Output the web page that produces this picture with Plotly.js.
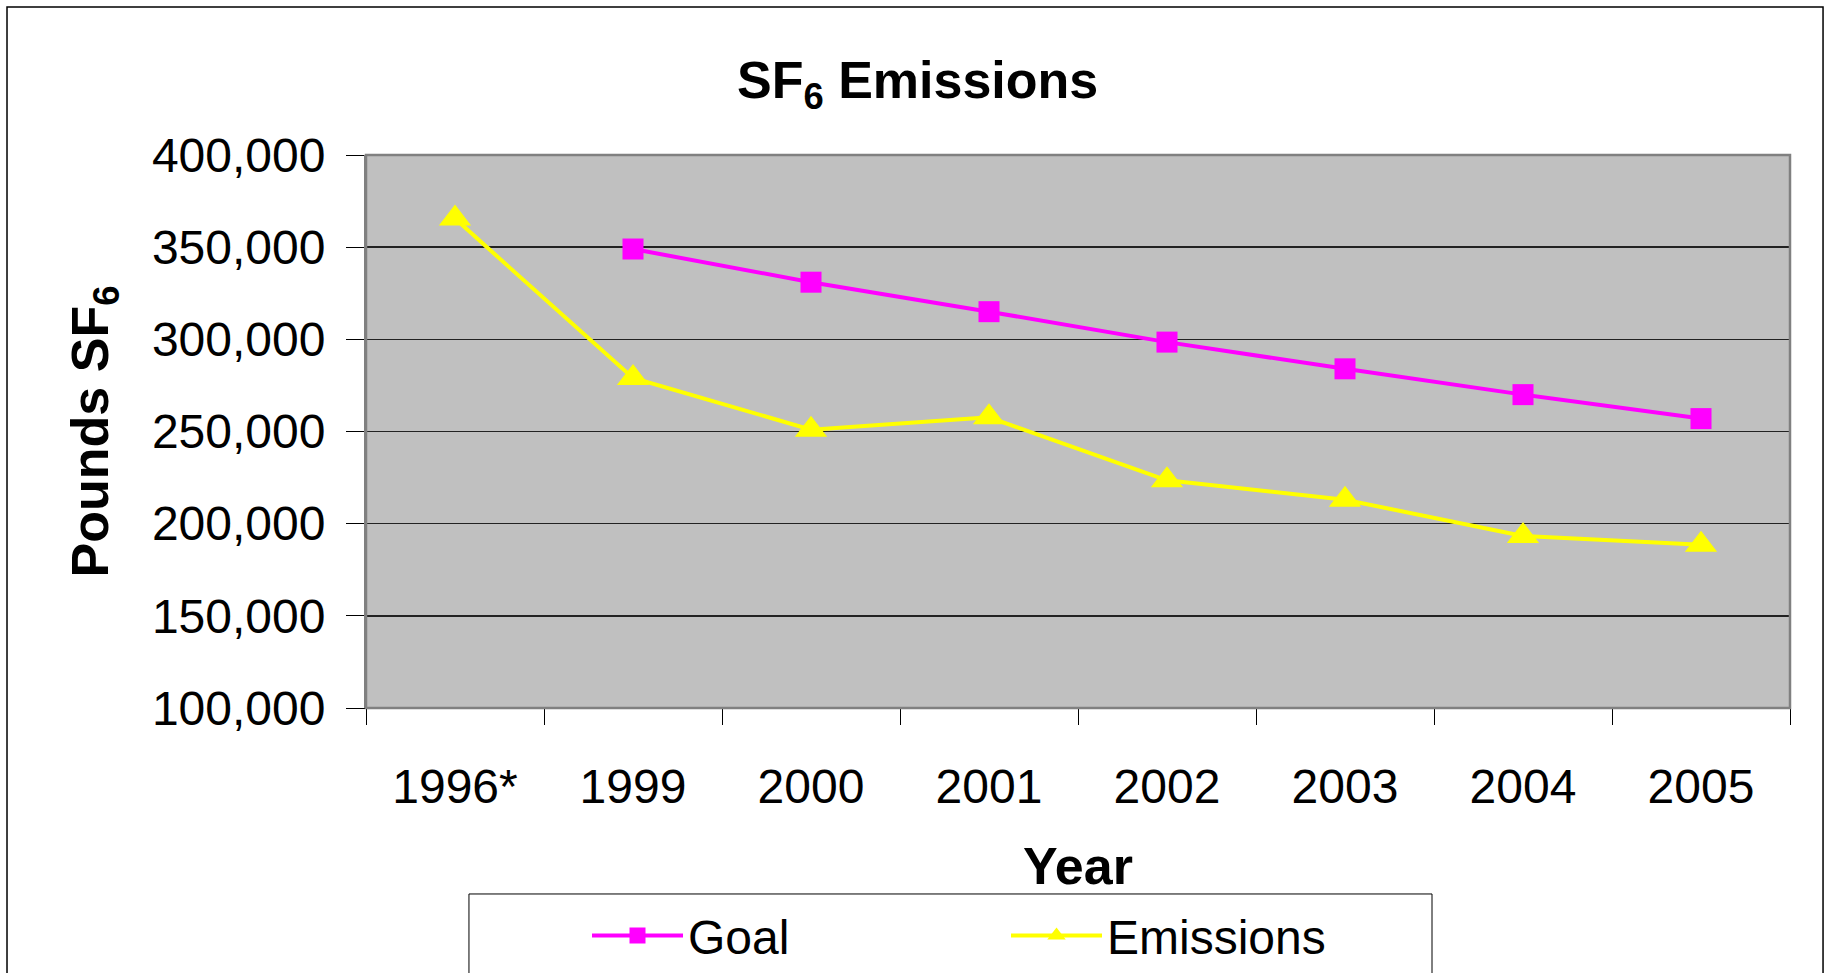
<!DOCTYPE html>
<html>
<head>
<meta charset="utf-8">
<script src="https://cdn.plot.ly/plotly-3.0.1.min.js"></script>
<style>
  html, body { margin: 0; padding: 0; background: #ffffff; }
  #chart { width: 1828px; height: 973px; }
</style>
</head>
<body>
<div id="chart"></div>
<script>
// ---- Data ----
const categories = ['1996*', '1999', '2000', '2001', '2002', '2003', '2004', '2005'];
const goalValues = [null, 349000, 331000, 315000, 298500, 284000, 270000, 257000];
const emissionValues = [365500, 279000, 251000, 257700, 223500, 213000, 193300, 188500];
const yTickValues = [100000, 150000, 200000, 250000, 300000, 350000, 400000];
const yTickLabels = ['100,000', '150,000', '200,000', '250,000', '300,000', '350,000', '400,000'];
const seriesNames = ['Goal', 'Emissions'];

const FONT = 'Liberation Sans, Arial, Helvetica, sans-serif';

const traces = [
  {
    type: 'scatter', mode: 'lines+markers', name: seriesNames[0],
    x: categories, y: goalValues, connectgaps: false,
    line: { color: '#FF00FF', width: 4 },
    marker: { symbol: 'square', size: 21, color: '#FF00FF' },
    hoverinfo: 'x+y'
  },
  {
    type: 'scatter', mode: 'lines+markers', name: seriesNames[1],
    x: categories, y: emissionValues,
    line: { color: '#FFFF00', width: 4 },
    marker: { symbol: 'triangle-up', size: 28, color: '#FFFF00' },
    hoverinfo: 'x+y'
  }
];

const layout = {
  width: 1828, height: 973,
  margin: { l: 366, r: 38, t: 155, b: 265, autoexpand: false },
  paper_bgcolor: '#ffffff',
  plot_bgcolor: '#C0C0C0',
  font: { family: FONT, color: '#000000', size: 48 },
  showlegend: true,
  title: {
    text: '<b>SF<sub>6</sub> Emissions</b>',
    font: { family: FONT, size: 52, color: '#000000' },
    xref: 'container', x: 0.502, xanchor: 'center',
    yref: 'container', y: 0.918, yanchor: 'middle'
  },
  xaxis: {
    type: 'category',
    categoryorder: 'array', categoryarray: categories,
    range: [-0.5, categories.length - 0.5],
    tickson: 'boundaries',
    ticks: 'outside', ticklen: 16, tickwidth: 1, tickcolor: '#000000',
    showgrid: false, zeroline: false,
    showline: true, linecolor: '#000000', linewidth: 1,
    tickfont: { family: FONT, size: 48, color: '#000000' },
    ticklabelstandoff: 36,
    title: { text: '<b>Year</b>', font: { family: FONT, size: 52, color: '#000000' }, standoff: 36 },
    automargin: false, fixedrange: true
  },
  yaxis: {
    range: [100000, 400000],
    tickmode: 'array', tickvals: yTickValues, ticktext: yTickLabels,
    ticks: 'outside', ticklen: 18, tickwidth: 1, tickcolor: '#000000',
    showgrid: true, gridcolor: '#222222', gridwidth: 1.5,
    zeroline: false,
    showline: true, linecolor: '#808080', linewidth: 2,
    tickfont: { family: FONT, size: 48, color: '#000000' },
    ticklabelstandoff: 11,
    title: { text: '<b>Pounds SF<sub>6</sub></b>', font: { family: FONT, size: 52, color: '#000000' }, standoff: 27 },
    automargin: false, fixedrange: true
  },
  legend: {
    orientation: 'h',
    x: 0.1552, xanchor: 'left',
    y: -0.412, yanchor: 'middle',
    bgcolor: 'rgba(0,0,0,0)', borderwidth: 0,
    font: { family: FONT, size: 48, color: '#000000' },
    itemwidth: 91,
    entrywidth: 313, entrywidthmode: 'pixels',
    traceorder: 'normal'
  },
  shapes: [
    // outer chart frame
    { type: 'rect', xref: 'paper', yref: 'paper', x0: -0.2521, x1: 1.0232, y0: 1.2676, y1: -0.52,
      line: { color: '#000000', width: 1.5 }, fillcolor: 'rgba(0,0,0,0)', layer: 'below' },
    // plot area border
    { type: 'rect', xref: 'paper', yref: 'paper', x0: 0, x1: 1, y0: 0, y1: 1,
      line: { color: '#808080', width: 2.5 }, fillcolor: 'rgba(0,0,0,0)', layer: 'above' },
    // legend frame
    { type: 'rect', xref: 'paper', yref: 'paper', x0: 0.0723, x1: 0.7486, y0: -0.3363, y1: -0.52,
      line: { color: '#000000', width: 1 }, fillcolor: 'rgba(0,0,0,0)', layer: 'below' }
  ]
};

Plotly.newPlot('chart', traces, layout, { staticPlot: true, displayModeBar: false });
</script>
</body>
</html>
